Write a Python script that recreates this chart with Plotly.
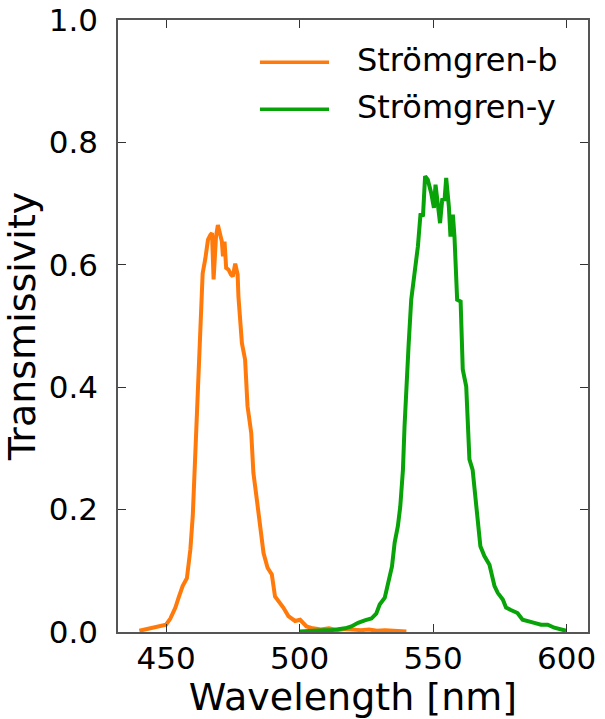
import plotly.graph_objects as go

# Strömgren-b filter transmission
b_wavelength = [440.0, 442, 444, 446, 448, 450, 451.6, 453.5, 454.7, 456.2, 457.8, 459.1, 460.0, 460.6,
                461.6, 462.2, 462.8, 463.7, 464.7, 465.7, 466.6, 467.2, 467.8, 468.7, 469.4, 470.3, 470.9,
                471.3, 471.9, 472.5, 473.4, 474.3, 475.0, 475.9, 476.8, 477.1, 478.4, 479.6, 480.5, 481.9,
                482.7, 484.0, 485.4, 486.5, 488.0, 489.6, 490.8, 492.7, 493.9, 495.8, 498.3, 500.2, 502.6,
                505, 508, 511, 514, 517, 520, 523, 526, 529, 532, 535, 538, 540]
b_trans = [0.002, 0.004, 0.005, 0.007, 0.009, 0.012, 0.022, 0.040, 0.056, 0.075, 0.088, 0.135, 0.190, 0.254,
           0.336, 0.401, 0.488, 0.586, 0.610, 0.641, 0.649, 0.652, 0.576, 0.646, 0.665, 0.652, 0.638,
           0.614, 0.638, 0.595, 0.592, 0.584, 0.581, 0.602, 0.584, 0.548, 0.472, 0.445, 0.369, 0.325,
           0.260, 0.216, 0.162, 0.129, 0.105, 0.094, 0.058, 0.048, 0.040, 0.026, 0.018, 0.020, 0.009,
           0.006, 0.004, 0.006, 0.003, 0.005, 0.004, 0.003, 0.004, 0.002, 0.003, 0.002, 0.002, 0.001]

# Strömgren-y filter transmission
y_wavelength = [500, 503, 506, 509, 512, 514.4, 517, 519.4, 521.9, 524.4, 526.9, 528.7, 530.0, 531.9,
                533.1, 534.6, 535.6, 536.8, 537.7, 538.7, 539.3, 539.9, 540.8, 541.8, 543.1, 544.3, 545.3,
                546.2, 547.0, 548.0, 549.3, 550.3, 550.9, 551.8, 552.6, 553.4, 554.3, 554.9, 555.9, 556.5,
                557.4, 558.0, 559.0, 560.3, 561.1, 562.4, 563.6, 564.8, 566.1, 567.7, 569.2, 571.1, 573.0,
                574.2, 576.1, 577.3, 579.1, 581.6, 583.5, 586.0, 587.9, 590.4, 592.9, 595.4, 597.9, 599.8]
y_trans = [0.001, 0.002, 0.002, 0.003, 0.003, 0.004, 0.006, 0.009, 0.015, 0.019, 0.022, 0.030, 0.045, 0.056,
           0.080, 0.107, 0.146, 0.173, 0.205, 0.265, 0.336, 0.396, 0.467, 0.543, 0.586, 0.630, 0.684,
           0.679, 0.745, 0.739, 0.717, 0.693, 0.731, 0.698, 0.668, 0.706, 0.707, 0.742, 0.695, 0.646,
           0.682, 0.646, 0.543, 0.540, 0.429, 0.401, 0.282, 0.265, 0.205, 0.140, 0.124, 0.110, 0.075,
           0.064, 0.053, 0.040, 0.036, 0.031, 0.020, 0.018, 0.015, 0.012, 0.012, 0.007, 0.005, 0.002]

series_names = ["Strömgren-b", "Strömgren-y"]
series_colors = ["#ff7a0a", "#08a308"]
x_ticks = [450, 500, 550, 600]
y_ticks = [0.0, 0.2, 0.4, 0.6, 0.8, 1.0]

FONT = "DejaVu Sans"

fig = go.Figure()
for xs, ys, name, col in [(b_wavelength, b_trans, series_names[0], series_colors[0]),
                          (y_wavelength, y_trans, series_names[1], series_colors[1])]:
    fig.add_trace(go.Scatter(x=xs, y=ys, mode="lines", name=name,
                             line=dict(color=col, width=4), showlegend=False))

# legend drawn manually (matplotlib style)
leg_y = [0.931, 0.854]
for i, (name, col) in enumerate(zip(series_names, series_colors)):
    fig.add_shape(type="line", xref="paper", yref="paper", x0=0.302, x1=0.449,
                  y0=leg_y[i], y1=leg_y[i], line=dict(color=col, width=3.5))
    fig.add_annotation(xref="paper", yref="paper", x=0.504, y=leg_y[i] + 0.004, text=name,
                       showarrow=False, xanchor="left", yanchor="middle",
                       font=dict(family=FONT, size=32, color="black"))

axis_common = dict(
    showline=True, linecolor="#555555", linewidth=1.5, mirror="allticks",
    ticks="inside", ticklen=8, tickwidth=1.2, tickcolor="#333333",
    showgrid=False, zeroline=False, automargin=False,
    tickfont=dict(family=FONT, size=31, color="black"),
)

fig.update_xaxes(range=[432, 608], tickvals=x_ticks,
                 title=dict(text="Wavelength [nm]", font=dict(family=FONT, size=38, color="black"), standoff=12),
                 ticklabelstandoff=-2, **axis_common)
fig.update_yaxes(range=[0, 1.0], tickvals=y_ticks, tickformat=".1f",
                 title=dict(text="Transmissivity", font=dict(family=FONT, size=38, color="black"), standoff=6),
                 ticklabelstandoff=12, **axis_common)

fig.update_layout(width=605, height=719, margin=dict(l=118, r=17, t=20, b=87),
                  plot_bgcolor="white", paper_bgcolor="white",
                  font=dict(family=FONT, color="black"))

fig.write_html("out.html")
